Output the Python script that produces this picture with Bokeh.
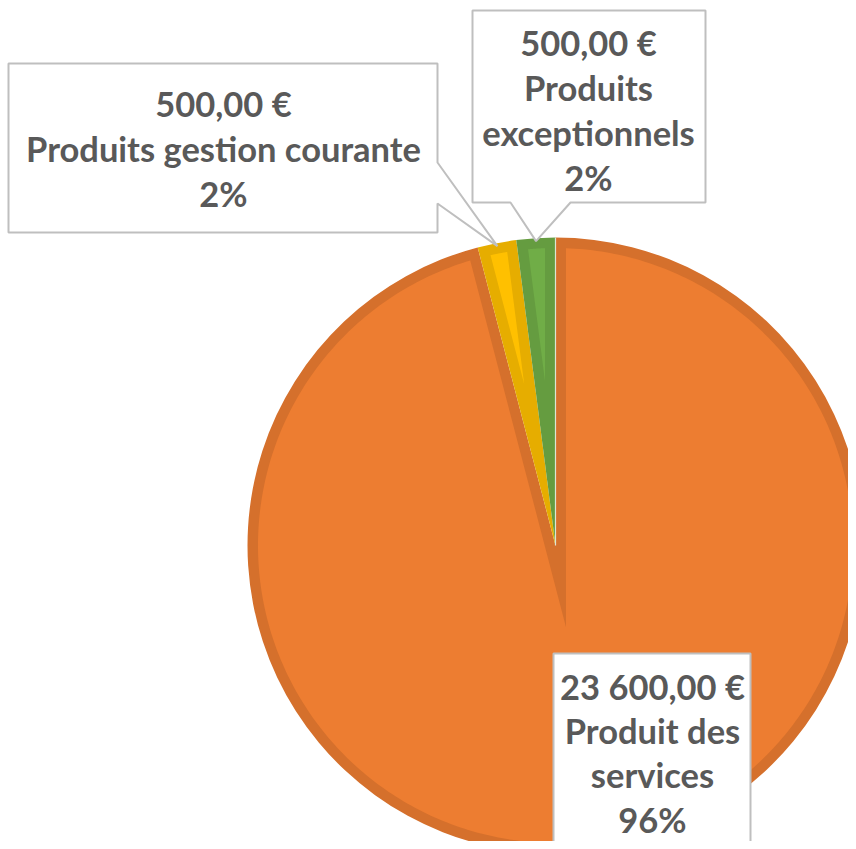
import numpy as np
from bokeh.plotting import figure
from bokeh.models import Range1d, ColumnDataSource
from bokeh.embed import file_html
from bokeh.resources import INLINE
from bokeh.core.properties import value

# ---- data ----
categories = ["Produit des services", "Produits gestion courante", "Produits exceptionnels"]
amounts = [23600, 500, 500]
name_lines = [["Produit des", "services"], ["Produits gestion courante"], ["Produits", "exceptionnels"]]
fill_colors = ["#ED7D31", "#FFC000", "#70AD47"]
edge_colors = ["#D5702C", "#E6AD00", "#659C40"]

# ---- layout ----
cx, cy, R, d = 555.0, -545.0, 308.0, 10.5
text_color = "#595959"
box_color = "#BFBFBF"

p = figure(width=848, height=841, x_range=Range1d(0, 848), y_range=Range1d(-841, 0),
           output_backend="svg", toolbar_location=None, min_border=0,
           x_axis_type=None, y_axis_type=None)
p.grid.visible = False
p.outline_line_color = None
p.background_fill_color = "white"
p.border_fill_color = "white"

total = float(sum(amounts))
fracs = [a / total for a in amounts]
cum = np.concatenate([[0.0], np.cumsum(fracs)])
a0 = [np.pi / 2 - 2 * np.pi * cum[i + 1] for i in range(len(amounts))]
a1 = [np.pi / 2 - 2 * np.pi * cum[i] for i in range(len(amounts))]

src = ColumnDataSource(dict(x=[cx] * 3, y=[cy] * 3, s=a0, e=a1, c=edge_colors))
p.wedge(x="x", y="y", radius=R, start_angle="s", end_angle="e", fill_color="c",
        line_color=None, source=src)

# inner (lighter) regions inset by d
xs, ys = [], []
rho = R - d
for s, e in zip(a0, a1):
    phi = e - s
    b = (s + e) / 2
    m = d / np.sin(phi / 2)
    ax, ay = cx + m * np.cos(b), cy + m * np.sin(b)
    t0 = s + np.arcsin(d / rho)
    t1 = e - np.arcsin(d / rho)
    ts = np.linspace(t0, t1, 400)
    xs.append([ax] + list(cx + rho * np.cos(ts)) + [ax])
    ys.append([ay] + list(cy + rho * np.sin(ts)) + [ay])
p.patches(xs, ys, fill_color=fill_colors, line_color=None)

# thin light separator at the start of the first slice
p.segment(x0=[cx], y0=[cy], x1=[cx + R * np.cos(a1[0])], y1=[cy + R * np.sin(a1[0])],
          line_color="#DCE6D2", line_width=1.2)

# ---- callouts ----
mids = [(s + e) / 2 for s, e in zip(a0, a1)]
tips = [(cx + (R - 3) * np.cos(m), cy + (R - 3) * np.sin(m)) for m in mids]

def flip(pts):
    return [pt[0] for pt in pts], [-pt[1] for pt in pts]

boxes = []
tx, ty = tips[0]
boxes.append([(553, 653), (750, 653), (750, 845), (618, 845), (tx, -ty), (588, 845), (553, 845)])
tx, ty = tips[1]
boxes.append([(8, 63), (437, 63), (437, 162), (tx, -ty), (437, 203), (437, 232), (8, 232)])
tx, ty = tips[2]
boxes.append([(472, 10), (705, 10), (705, 202), (570, 202), (tx, -ty), (510, 202), (472, 202)])
bxs, bys = [], []
for b in boxes:
    x_, y_ = flip(b)
    bxs.append(x_)
    bys.append(y_)
p.patches(bxs, bys, fill_color="white", line_color=box_color, line_width=2)

# ---- labels ----
def eur(v):
    s = f"{v:,.2f}".replace(",", " ").replace(".", ",")
    return s + " €"

centers = [(652, 686), (223, 103), (588, 42)]
gaps = [44.2, 45, 45]
lx, ly, lt = [], [], []
for i, a in enumerate(amounts):
    lines = [eur(a)] + name_lines[i] + [f"{round(100 * a / total)}%"]
    x0, y0 = centers[i]
    for k, t in enumerate(lines):
        lx.append(x0)
        ly.append(-(y0 + k * gaps[i]))
        lt.append(t)
p.text(x=lx, y=ly, text=lt, text_font=value("Lato"), text_font_style="bold",
       text_font_size="34.5px", text_color=text_color, text_align="center",
       text_baseline="middle")

open("out.html", "w").write(file_html(p, INLINE))
